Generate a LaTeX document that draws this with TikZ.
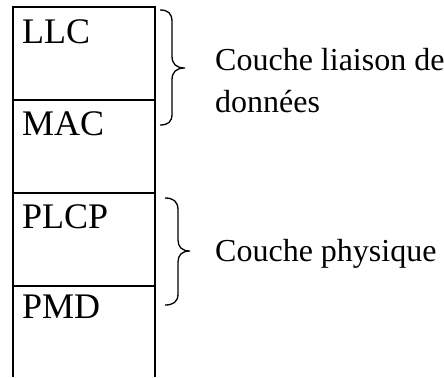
\documentclass[tikz,border=0pt]{standalone}
\usepackage{fontspec}
\setmainfont{Liberation Serif}
\begin{document}
\begin{tikzpicture}[x=1bp,y=-1bp,
  frame/.style={line width=2bp},
  brace/.style={line width=1.3bp},
  layer/.style={anchor=base west,inner sep=0pt,font=\fontsize{36bp}{40bp}\selectfont},
  side/.style={anchor=base west,inner sep=0pt,font=\fontsize{32bp}{42bp}\selectfont}]
\useasboundingbox (0,0) rectangle (444,377);

% protocol stack column (open at the bottom)
\draw[frame] (13,377) -- (13,7) -- (155,7) -- (155,377);
\draw[frame] (13,100) -- (155,100);
\draw[frame] (13,193) -- (155,193);
\draw[frame] (13,286) -- (155,286);

% layer names
\node[layer] (llc)  at (22,43)  {LLC};
\node[layer] (mac)  at (22,135) {MAC};
\node[layer] (plcp) at (22,228) {PLCP};
\node[layer] (pmd)  at (22,318) {PMD};

% brace grouping LLC and MAC
\coordinate (b1tip) at (185,68);
\draw[brace] (160,10) .. controls (168,10) and (172,13) .. (172,22) -- (172,56)
  .. controls (172,64) and (176,68) .. (b1tip)
  .. controls (176,68) and (172,72) .. (172,80) -- (172,114)
  .. controls (172,122) and (168,125) .. (160,125);

% brace grouping PLCP and PMD
\coordinate (b2tip) at (190,251);
\draw[brace] (165,198) .. controls (173,198) and (178,201) .. (178,210) -- (178,240)
  .. controls (178,247) and (182,251) .. (b2tip)
  .. controls (182,251) and (178,255) .. (178,262) -- (178,294)
  .. controls (178,302) and (173,305) .. (165,305);

% group labels
\node[side] (dl1) at (215,70)  {Couche liaison de};
\node[side] (dl2) at (215,112) {données};
\node[side] (phy) at (215,261) {Couche physique};
\end{tikzpicture}
\end{document}
